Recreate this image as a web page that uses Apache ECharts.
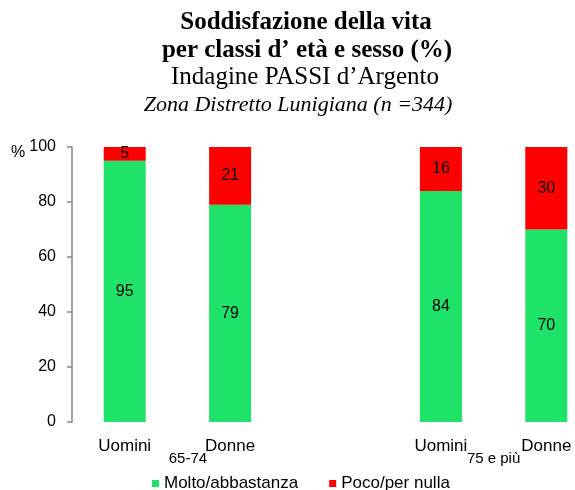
<!DOCTYPE html>
<html>
<head>
<meta charset="utf-8">
<script src="https://cdn.jsdelivr.net/npm/echarts@6/dist/echarts.min.js"></script>
<style>
  html, body { margin: 0; padding: 0; background: #fff; }
</style>
</head>
<body>
<div id="myChart" style="width: 575px; height: 490px;"></div>
<script>
// categorie (lo slot vuoto separa le due classi d'età)
var categories = ["Uomini", "Donne", "", "Uomini", "Donne"];
var groupLabels = ["65-74", "75 e più"];
var groupPos = [0.6, 3.5];
var molto = [95, 79, null, 84, 70];
var poco = [5, 21, null, 16, 30];
var yTicks = [0, 20, 40, 60, 80, 100];

var myChart = echarts.init(document.getElementById("myChart"));
var sans = "Liberation Sans, Arial, sans-serif";
var serif = "Liberation Serif, Times New Roman, serif";

myChart.setOption({
  animation: false,
  color: ["#1ee368", "#ff0000"],
  title: [
    {
      text: "Soddisfazione della vita",
      left: 301, top: 5, textAlign: "center",
      textStyle: { fontFamily: serif, fontSize: 25, fontWeight: "bold", color: "#000" }
    },
    {
      text: "per classi d\u2019 età e sesso (%)",
      left: 302, top: 33, textAlign: "center",
      textStyle: { fontFamily: serif, fontSize: 25, fontWeight: "bold", color: "#000" }
    },
    {
      text: "Indagine PASSI d\u2019Argento",
      left: 300, top: 60, textAlign: "center",
      textStyle: { fontFamily: serif, fontSize: 25, fontWeight: "normal", color: "#000" }
    },
    {
      text: "Zona Distretto Lunigiana (n =344)",
      left: 293, top: 89, textAlign: "center",
      textStyle: { fontFamily: serif, fontSize: 22, fontWeight: "normal", fontStyle: "italic", color: "#000" }
    }
  ],
  legend: {
    data: ["Molto/abbastanza", "Poco/per nulla"],
    left: 147, top: 470,
    itemWidth: 7, itemHeight: 7, itemGap: 31,
    icon: "rect",
    textStyle: { fontFamily: sans, fontSize: 17, color: "#000" }
  },
  grid: { left: 72, right: -24, top: 147, bottom: 68, outerBoundsMode: "none", containLabel: false },
  xAxis: [
    {
      type: "category",
      data: categories,
      axisLine: { show: false },
      axisTick: { show: false },
      axisLabel: { fontFamily: sans, fontSize: 17, color: "#000", margin: 16, interval: 0 }
    },
    {
      type: "value",
      position: "bottom",
      min: -0.5, max: 4.5, interval: 1,
      offset: 29,
      axisLine: { show: false, onZero: false },
      axisTick: { show: false },
      splitLine: { show: false },
      axisLabel: {
        fontFamily: sans, fontSize: 15, color: "#000", margin: 0,
        showMinLabel: true, showMaxLabel: true,
        customValues: groupPos,
        formatter: function (v) {
          for (var i = 0; i < groupPos.length; i++) {
            if (Math.abs(v - groupPos[i]) < 0.01) return groupLabels[i];
          }
          return "";
        }
      }
    }
  ],
  yAxis: {
    type: "value",
    min: 0, max: 100, interval: 20,
    axisLine: { show: true, onZero: false, lineStyle: { color: "#868686", width: 1.5 } },
    axisTick: { show: true, length: 5, lineStyle: { color: "#868686", width: 1.5 } },
    splitLine: { show: false },
    axisLabel: {
      fontFamily: sans, fontSize: 16, color: "#000", margin: 16,
      formatter: function (v) {
        return v === yTicks[yTicks.length - 1] ? "{p|%}" + v : String(v);
      },
      rich: { p: { fontFamily: sans, fontSize: 16, color: "#000", padding: [11, 4, 0, 0] } }
    }
  },
  series: [
    {
      name: "Molto/abbastanza",
      type: "bar",
      stack: "tot",
      barWidth: 42,
      data: molto,
      label: { show: true, position: "inside", fontFamily: sans, fontSize: 16, color: "#000" }
    },
    {
      name: "Poco/per nulla",
      type: "bar",
      stack: "tot",
      barWidth: 42,
      data: poco,
      label: { show: true, position: "inside", fontFamily: sans, fontSize: 16, color: "#000" }
    }
  ]
});
</script>
</body>
</html>
